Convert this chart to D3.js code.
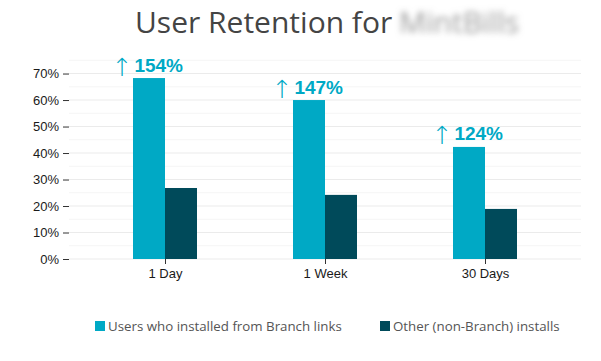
<!DOCTYPE html>
<html>
<head>
<meta charset="utf-8">
<script src="https://cdn.jsdelivr.net/npm/d3@7"></script>
<style>
html,body{margin:0;padding:0;background:#fff;}
svg{display:block;}
</style>
</head>
<body>
<div id="chart"></div>
<script>
const categories = ["1 Day", "1 Week", "30 Days"];
const seriesNames = ["Users who installed from Branch links", "Other (non-Branch) installs"];
const branchValues = [0.683, 0.600, 0.423];
const otherValues = [0.268, 0.242, 0.189];
const liftLabels = ["154%", "147%", "124%"];
const yTicks = [0, 0.1, 0.2, 0.3, 0.4, 0.5, 0.6, 0.7];
const yMinor = [0.05, 0.15, 0.25, 0.35, 0.45, 0.55, 0.65, 0.75];
const colors = ["#00A9C5", "#004A5A"];

(function () {
const W = 601, H = 361;
const svg = d3.select("#chart").append("svg").attr("width", W).attr("height", H);

const defs = svg.append("defs");
defs.append("filter").attr("id", "blur").attr("x", "-20%").attr("y", "-50%").attr("width", "140%").attr("height", "200%")
  .append("feGaussianBlur").attr("stdDeviation", 3.2);

const pLeft = 69, pRight = 581, pTop = 55, pBottom = 259;

const x = d3.scalePoint().domain(categories).range([pLeft, pRight]).padding(0.6);
const step = x.step();
const barW = step * 0.2;
const y = d3.scaleLinear().domain([0, 0.77]).range([pBottom, pTop]);

// gridlines
svg.append("g").selectAll("line").data(yMinor).join("line")
  .attr("x1", pLeft).attr("x2", pRight)
  .attr("y1", d => y(d)).attr("y2", d => y(d))
  .attr("stroke", "#f5f5f5").attr("stroke-width", 1);
svg.append("g").selectAll("line").data(yTicks).join("line")
  .attr("x1", pLeft).attr("x2", pRight)
  .attr("y1", d => y(d)).attr("y2", d => y(d))
  .attr("stroke", "#ebebeb").attr("stroke-width", 1.1);

// bars
const data = categories.map((c, i) => ({c, v: [branchValues[i], otherValues[i]], lift: liftLabels[i]}));
const groups = svg.append("g").selectAll("g").data(data).join("g");
groups.each(function(d) {
  const g = d3.select(this);
  d.v.forEach((v, j) => {
    g.append("rect")
      .attr("x", x(d.c) - barW + j * barW)
      .attr("y", y(v))
      .attr("width", barW)
      .attr("height", y(0) - y(v))
      .attr("fill", colors[j]);
  });
  const cx = x(d.c) - barW / 2;
  const by = y(d.v[0]) - 6.5;
  g.append("text")
    .attr("x", cx + 34)
    .attr("y", by)
    .attr("text-anchor", "end")
    .attr("fill", colors[0])
    .attr("font-weight", "bold")
    .style("font-family", "Liberation Sans, Arial, sans-serif")
    .style("font-size", "19px")
    .text(d.lift);
  g.append("text")
    .attr("x", cx - 27)
    .attr("y", by + 4)
    .attr("text-anchor", "middle")
    .attr("fill", colors[0])
    .style("font-family", "Noto Sans, DejaVu Sans, sans-serif")
    .style("font-size", "25px")
    .style("font-weight", "300")
    .text("\u2191");
});

// y axis
const yAxis = svg.append("g").attr("transform", `translate(${pLeft},0)`)
  .call(d3.axisLeft(y).tickValues(yTicks).tickFormat(d3.format(".0%")).tickSize(6).tickPadding(4));
yAxis.select(".domain").remove();
yAxis.selectAll(".tick line").attr("stroke", "#333").attr("stroke-width", 1);
yAxis.selectAll(".tick text").attr("fill", "#1a1a1a")
  .style("font-family", "Liberation Sans, Arial, sans-serif").style("font-size", "13px");

// x axis
const xAxis = svg.append("g").attr("transform", `translate(0,${pBottom})`)
  .call(d3.axisBottom(x).tickSize(5).tickPadding(5));
xAxis.select(".domain").remove();
xAxis.selectAll(".tick line").attr("stroke", "#333").attr("stroke-width", 1);
xAxis.selectAll(".tick text").attr("fill", "#1a1a1a")
  .style("font-family", "Liberation Sans, Arial, sans-serif").style("font-size", "13px");

// title
svg.append("text").attr("x", 135).attr("y", 33)
  .attr("fill", "#444")
  .style("font-family", "Open Sans, sans-serif").style("font-size", "30px")
  .text("User Retention for");
svg.append("text").attr("x", 399).attr("y", 33)
  .attr("fill", "#9a9a9a").attr("filter", "url(#blur)")
  .style("font-family", "Open Sans, sans-serif").style("font-size", "30px")
  .text("MintBills");

// legend
const legendX = [95, 380];
const leg = svg.append("g").selectAll("g").data(seriesNames).join("g")
  .attr("transform", (d, i) => `translate(${legendX[i]},321)`);
leg.append("rect").attr("width", 10).attr("height", 10).attr("fill", (d, i) => colors[i]);
leg.append("text").attr("x", 13).attr("y", 10)
  .attr("fill", "#555")
  .style("font-family", "Open Sans, sans-serif").style("font-size", "13.3px")
  .text(d => d);
})();
</script>
</body>
</html>
